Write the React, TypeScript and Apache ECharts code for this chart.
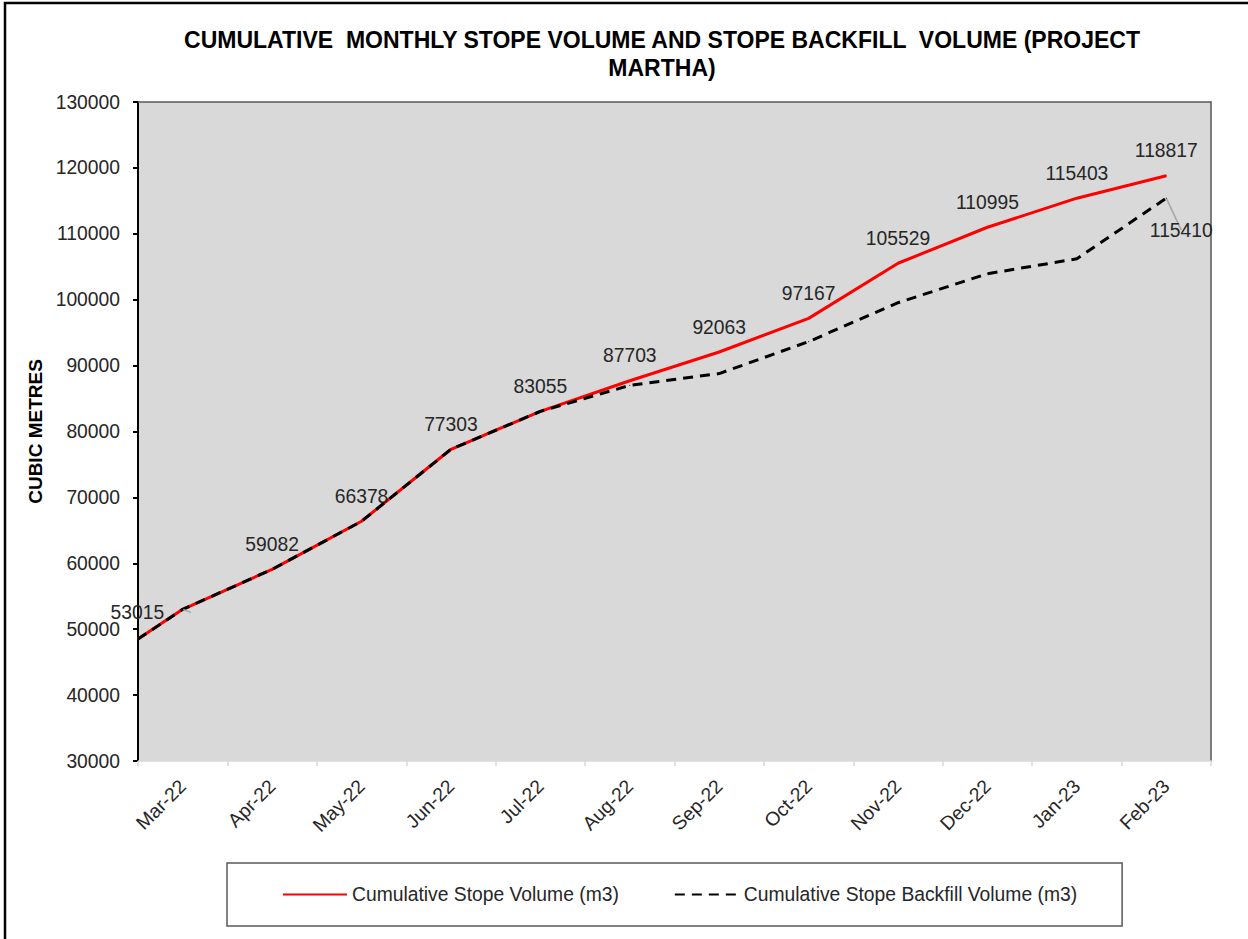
import React, { useEffect, useRef } from "react";
import * as echarts from "echarts";

const categories = [
  "Mar-22", "Apr-22", "May-22", "Jun-22", "Jul-22", "Aug-22",
  "Sep-22", "Oct-22", "Nov-22", "Dec-22", "Jan-23", "Feb-23",
];
const stopeVolume = [
  53015, 59082, 66378, 77303, 83055, 87703, 92063, 97167, 105529, 110995, 115403, 118817,
];
const backfillVolume = [
  53015, 59082, 66378, 77303, 83055, 87000, 88790, 93640, 99545, 103940, 106210, 115410,
];
// value where both lines enter at the left edge of the plot
const openingVolume = 48500;
const yMin = 30000;
const yMax = 130000;
const yStep = 10000;

const titleText =
  "CUMULATIVE  MONTHLY STOPE VOLUME AND STOPE BACKFILL  VOLUME (PROJECT\nMARTHA)";
const yName = "CUBIC METRES";
const stopeName = "Cumulative Stope Volume (m3)";
const backfillName = "Cumulative Stope Backfill Volume (m3)";

const FONT = "Liberation Sans, Arial, sans-serif";
const FS = 19.3;

export default function App() {
  const ref = useRef<HTMLDivElement>(null);

  useEffect(() => {
    if (!ref.current) return;
    const chart = echarts.init(ref.current, null, { renderer: "svg" });

    const toPoints = (vals: number[]) => [
      [-0.5, openingVolume],
      ...vals.map((v, i) => [i, v]),
    ];

    const stopeData = toPoints(stopeVolume);
    const lastIdx = stopeData.length - 1;
    const backfillData = toPoints(backfillVolume).map((pt, idx) => {
      if (idx === 1)
        return {
          value: pt,
          label: {
            show: true,
            position: "left",
            distance: 20,
            offset: [2, 3],
            backgroundColor: "#ffffff00",
          },
        };
      if (idx === lastIdx)
        return {
          value: pt,
          label: { show: true, position: "bottom", distance: 22, offset: [15, 0] },
        };
      return { value: pt };
    });

    chart.setOption({
      animation: false,
      backgroundColor: "#ffffff",
      textStyle: { fontFamily: FONT },
      title: {
        text: titleText,
        left: 657,
        top: 21,
        textAlign: "center",
        textStyle: {
          fontFamily: FONT,
          fontSize: 23,
          fontWeight: "bold",
          color: "#000000",
          lineHeight: 28,
        },
      },
      graphic: [
        {
          type: "rect",
          shape: { x: 5, y: 3, width: 1400, height: 1200 },
          style: { fill: "none", stroke: "#000000", lineWidth: 2.5 },
          silent: true,
        },
      ],
      legend: {
        left: 227,
        top: 863,
        padding: [22, 45, 22, 55],
        itemWidth: 64,
        itemHeight: 14,
        itemGap: 55,
        borderColor: "#595959",
        borderWidth: 1.5,
        itemStyle: { opacity: 0 },
        textStyle: { fontFamily: FONT, fontSize: FS, color: "#262626" },
        data: [stopeName, backfillName],
      },
      grid: {
        left: 138,
        right: 37,
        top: 102,
        bottom: 178,
        show: true,
        backgroundColor: "#d9d9d9",
        borderWidth: 0,
      },
      xAxis: [
        {
          type: "category",
          data: categories,
          boundaryGap: true,
          position: "bottom",
          axisLine: { show: true, onZero: false, lineStyle: { color: "#d9d9d9", width: 1.5 } },
          axisTick: { show: true, length: 5, lineStyle: { color: "#d9d9d9", width: 1.5 } },
          axisLabel: {
            rotate: 45,
            margin: 22,
            verticalAlign: "middle",
            fontFamily: FONT,
            fontSize: FS,
            color: "#262626",
            interval: 0,
          },
          splitLine: { show: false },
        },
        {
          type: "value",
          min: -0.5,
          max: categories.length - 0.5,
          position: "top",
          axisLine: { show: true, onZero: false, lineStyle: { color: "#595959", width: 1.5 } },
          axisTick: { show: false },
          axisLabel: { show: false },
          splitLine: { show: false },
        },
      ],
      yAxis: [
        {
          type: "value",
          min: yMin,
          max: yMax,
          interval: yStep,
          position: "left",
          name: yName,
          nameLocation: "middle",
          nameGap: 84,
          nameTextStyle: {
            fontFamily: FONT,
            fontSize: 19,
            fontWeight: "bold",
            color: "#000000",
          },
          axisLine: { show: true, onZero: false, lineStyle: { color: "#000000", width: 2 } },
          axisTick: { show: true, length: 5, lineStyle: { color: "#000000", width: 2 } },
          axisLabel: {
            margin: 18,
            fontFamily: FONT,
            fontSize: FS,
            color: "#262626",
            formatter: (v: number) => String(v),
          },
          splitLine: { show: false },
        },
        {
          type: "value",
          min: yMin,
          max: yMax,
          interval: yStep,
          position: "right",
          axisLine: { show: true, onZero: false, lineStyle: { color: "#595959", width: 1.5 } },
          axisTick: { show: false },
          axisLabel: { show: false },
          splitLine: { show: false },
        },
      ],
      series: [
        {
          name: stopeName,
          type: "line",
          xAxisIndex: 1,
          yAxisIndex: 0,
          data: stopeData,
          symbol: "circle",
          symbolSize: 1,
          showSymbol: true,
          itemStyle: { color: "#ff0000" },
          lineStyle: { color: "#ff0000", width: 3 },
          label: {
            show: true,
            position: "top",
            distance: 15,
            fontFamily: FONT,
            fontSize: FS,
            color: "#262626",
            formatter: (p: any) => (p.dataIndex >= 2 ? String(p.value[1]) : ""),
          },
          z: 2,
        },
        {
          name: backfillName,
          type: "line",
          xAxisIndex: 1,
          yAxisIndex: 0,
          data: backfillData,
          symbol: "circle",
          symbolSize: 1,
          showSymbol: true,
          itemStyle: { color: "#000000" },
          lineStyle: { color: "#000000", width: 3, type: [10, 7] },
          label: {
            show: false,
            fontFamily: FONT,
            fontSize: FS,
            color: "#262626",
            formatter: (p: any) => String(p.value[1]),
          },
          labelLine: { show: true, lineStyle: { color: "#a6a6a6", width: 1.5 } },
          z: 3,
        },
      ],
    });

    return () => chart.dispose();
  }, []);

  return (
    <div
      ref={ref}
      style={{ position: "fixed", left: 0, top: 0, width: 1248, height: 939 }}
    />
  );
}
